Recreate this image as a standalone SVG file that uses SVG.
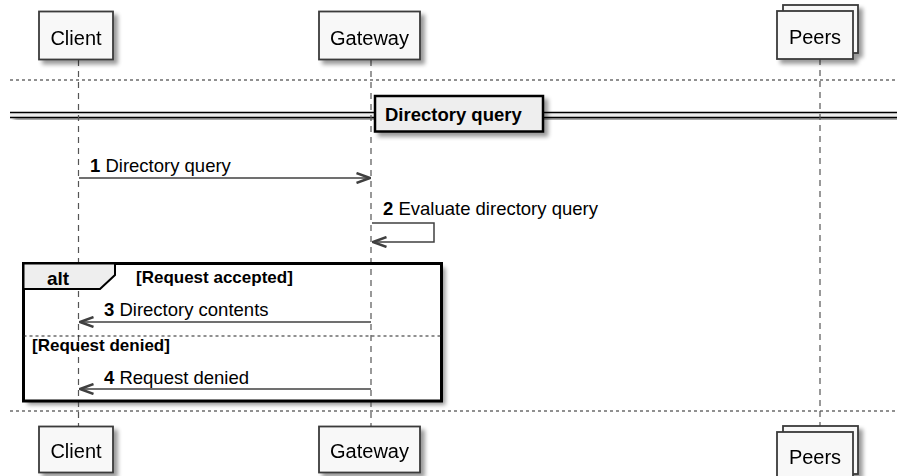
<svg xmlns="http://www.w3.org/2000/svg" width="897" height="476" viewBox="0 0 897 476">
  <style>
    text { font-family: "Liberation Sans", Arial, sans-serif; fill: #000; }
    .part { fill: #f8f8f8; stroke: #3a3a3a; stroke-width: 1.8; }
    .pname { font-size: 20px; text-anchor: middle; }
    .life { stroke: #555; stroke-width: 1.2; stroke-dasharray: 6 5; fill: none; }
    .sep { stroke: #222; stroke-width: 1.2; stroke-dasharray: 3 3; fill: none; }
    .msg { stroke: #404040; stroke-width: 1.5; fill: none; }
    .mlabel { font-size: 18.5px; }
    .bold { font-weight: bold; }
    .frame { fill: none; stroke: #000; stroke-width: 3; }
    .tab { fill: #eeeeee; stroke: #000; stroke-width: 2; }
    .guard { font-size: 17px; font-weight: bold; }
  </style>
  <defs>
    <filter id="shadow" x="-10%" y="-20%" width="130%" height="160%">
      <feGaussianBlur in="SourceAlpha" stdDeviation="2.2"/>
      <feOffset dx="4" dy="4" result="off"/>
      <feComponentTransfer><feFuncA type="linear" slope="0.4"/></feComponentTransfer>
      <feMerge><feMergeNode/><feMergeNode in="SourceGraphic"/></feMerge>
    </filter>
    <marker id="arr" viewBox="0 0 16 12" refX="15" refY="6" markerWidth="16" markerHeight="12" markerUnits="userSpaceOnUse" orient="auto">
      <path d="M1.5,1 L15,6 L1.5,11" fill="none" stroke="#404040" stroke-width="2.4" stroke-linejoin="miter"/>
    </marker>
  </defs>

  <!-- page separators -->
  <g id="separators">
    <line class="sep" x1="10" y1="80" x2="897" y2="80"/>
    <line class="sep" x1="10" y1="411" x2="897" y2="411"/>
  </g>

  <!-- divider double rule -->
  <g id="divider-rule" filter="url(#shadow)">
    <rect x="10" y="112.5" width="887" height="5" fill="#eeeeee"/>
    <line x1="10" y1="112.5" x2="897" y2="112.5" stroke="#000" stroke-width="1.5"/>
    <line x1="10" y1="117.5" x2="897" y2="117.5" stroke="#000" stroke-width="1.5"/>
  </g>

  <!-- alt frame backdrop -->
  <rect x="23.5" y="263.5" width="418" height="137.5" fill="#fff" filter="url(#shadow)"/>

  <!-- lifelines -->
  <g id="lifelines">
    <line class="life" x1="78.5" y1="60" x2="78.5" y2="426"/>
    <line class="life" x1="371" y1="60" x2="371" y2="426"/>
    <line class="life" x1="820" y1="59" x2="820" y2="426"/>
  </g>

  <!-- alt fragment -->
  <g id="alt">
    <rect class="frame" x="23.5" y="263.5" width="418" height="137.5"/>
    <path class="tab" d="M23.5,263.5 H115 V275 L100,289 H23.5 Z"/>
    <text class="bold" x="47" y="284.5" font-size="19">alt</text>
    <text class="guard" x="136" y="283">[Request accepted]</text>
    <line class="sep" x1="23.5" y1="336" x2="441.5" y2="336"/>
    <text class="guard" x="32" y="351">[Request denied]</text>
  </g>

  <!-- messages -->
  <g id="connectors">
    <line class="msg" x1="79" y1="178" x2="370" y2="178" marker-end="url(#arr)"/>
    <text class="mlabel" x="90" y="172"><tspan class="bold">1</tspan> Directory query</text>

    <path class="msg" d="M372,223 H434 V242 H373" marker-end="url(#arr)"/>
    <text class="mlabel" x="383" y="215"><tspan class="bold">2</tspan> Evaluate directory query</text>

    <line class="msg" x1="371" y1="322" x2="80" y2="322" marker-end="url(#arr)"/>
    <text class="mlabel" x="104" y="316"><tspan class="bold">3</tspan> Directory contents</text>

    <line class="msg" x1="371" y1="389" x2="80" y2="389" marker-end="url(#arr)"/>
    <text class="mlabel" x="104" y="383.5"><tspan class="bold">4</tspan> Request denied</text>
  </g>

  <!-- divider label -->
  <g id="divider">
    <rect x="375" y="96" width="168" height="35.5" fill="#eeeeee" stroke="#000" stroke-width="2.5" filter="url(#shadow)"/>
    <text class="bold" x="385" y="121" font-size="18.5">Directory query</text>
  </g>

  <!-- participants, top -->
  <g id="client-top" filter="url(#shadow)">
    <rect class="part" x="39" y="11.5" width="74" height="48"/>
    <text class="pname" x="76" y="44.5">Client</text>
  </g>
  <g id="gateway-top" filter="url(#shadow)">
    <rect class="part" x="319" y="11.5" width="101" height="48"/>
    <text class="pname" x="369.5" y="44.5">Gateway</text>
  </g>
  <g id="peers-top" filter="url(#shadow)">
    <rect class="part" x="783" y="5" width="75" height="48"/>
    <rect class="part" x="777" y="11" width="76" height="48"/>
    <text class="pname" x="815" y="43.5">Peers</text>
  </g>

  <!-- participants, bottom -->
  <g id="client-bottom" filter="url(#shadow)">
    <rect class="part" x="39" y="426.5" width="74" height="46"/>
    <text class="pname" x="76" y="458">Client</text>
  </g>
  <g id="gateway-bottom" filter="url(#shadow)">
    <rect class="part" x="319" y="426.5" width="101" height="46"/>
    <text class="pname" x="369.5" y="458">Gateway</text>
  </g>
  <g id="peers-bottom" filter="url(#shadow)">
    <rect class="part" x="783" y="426" width="75" height="48"/>
    <rect class="part" x="777" y="432" width="76" height="48"/>
    <text class="pname" x="815" y="463.5">Peers</text>
  </g>
</svg>
